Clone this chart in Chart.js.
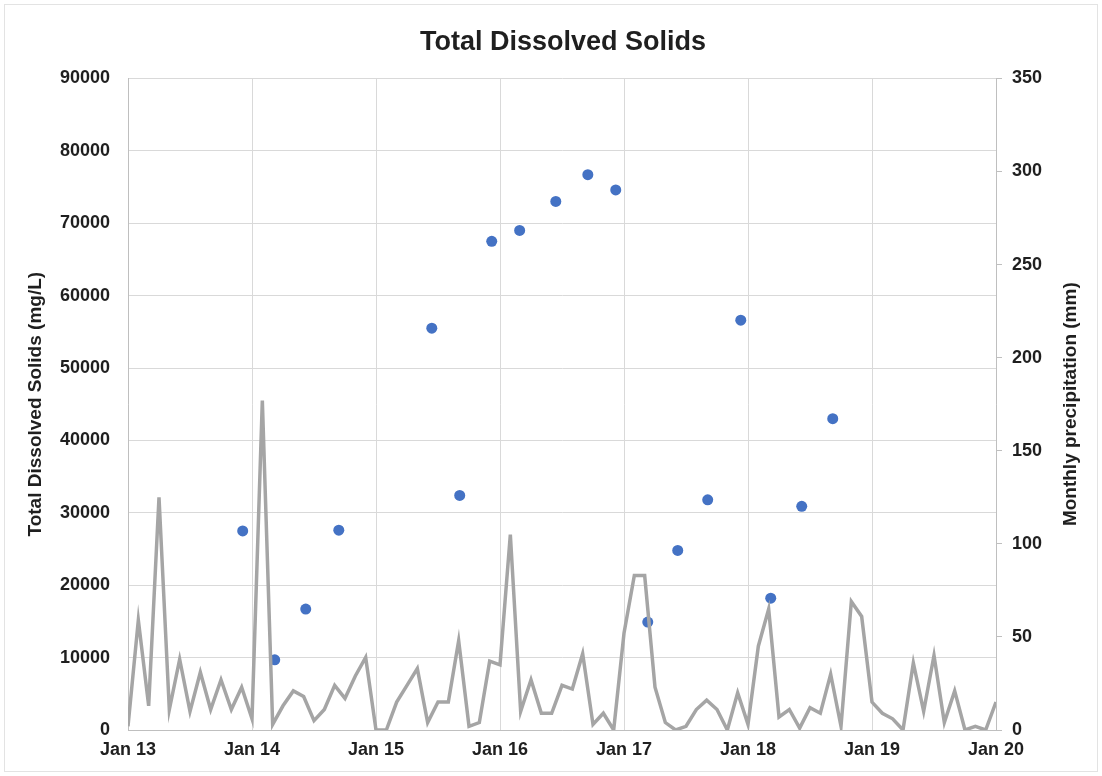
<!DOCTYPE html>
<html>
<head>
<meta charset="utf-8">
<script src="https://cdn.jsdelivr.net/npm/chart.js@4.4.1/dist/chart.umd.min.js"></script>
<style>
  html, body { margin: 0; padding: 0; background: #fff; }
  #wrap { width: 1102px; height: 776px; }
</style>
</head>
<body>
<div id="wrap"><canvas id="c" width="1102" height="776"></canvas></div>
<script>
// x axis: months since Jan 2013, one label per year
const yearLabels = ["Jan 13", "Jan 14", "Jan 15", "Jan 16", "Jan 17", "Jan 18", "Jan 19", "Jan 20"];

// monthly precipitation (mm), Jan 2013 .. Jan 2020
const precip2013 = [2, 59, 13, 125, 11, 38, 10, 31, 11, 27, 11, 23];
const precip2014 = [6, 177, 3, 13, 21, 18, 5, 11, 24, 17, 29, 39];
const precip2015 = [0, 0, 15, 24, 33, 4, 15, 15, 48, 2, 4, 37];
const precip2016 = [35, 105, 10, 27, 9, 9, 24, 22, 41, 3, 9, 0];
const precip2017 = [52, 83, 83, 23, 4, 0, 2, 11, 16, 11, 0, 20];
const precip2018 = [3, 45, 65, 7, 11, 1, 12, 9, 30, 2, 69, 61];
const precip2019 = [15, 9, 6, 0, 36, 10, 40, 4, 21, 0, 2, 0];
const precip2020 = [15];

// TDS samples: position in months since Jan 2013, value mg/L
const tdsMonths = [11.1, 14.2, 17.2, 20.4, 29.4, 32.1, 35.2, 37.9, 41.4, 44.5, 47.2, 50.3, 53.2, 56.1, 59.3, 62.2, 65.2, 68.2];
const tdsValues = [27500, 9700, 16700, 27600, 55500, 32400, 67500, 69000, 73000, 76700, 74600, 14900, 24800, 31800, 56600, 18200, 30900, 43000];

const FONT = "'Liberation Sans', Arial, sans-serif";
const TXT = "#1f1f1f";
const GRID = "#d9d9d9";

const precip = [].concat(precip2013, precip2014, precip2015, precip2016, precip2017, precip2018, precip2019, precip2020);
const precipPts = precip.map((v, i) => ({ x: i, y: v }));
const tdsPts = tdsMonths.map((m, i) => ({ x: m, y: tdsValues[i] }));

// 右軸タイトル（下から上に読む向き）と外枠
const extras = {
  id: "extras",
  beforeDraw(chart) {
    const ctx = chart.ctx;
    ctx.save();
    ctx.fillStyle = "#fff";
    ctx.fillRect(0, 0, chart.width, chart.height);
    ctx.strokeStyle = "#e3e3e3";
    ctx.lineWidth = 1;
    ctx.strokeRect(4.5, 4.5, chart.width - 9, chart.height - 9);
    ctx.restore();
  },
  afterDraw(chart) {
    const ctx = chart.ctx;
    const a = chart.chartArea;
    ctx.save();
    ctx.translate(1071, (a.top + a.bottom) / 2);
    ctx.rotate(-Math.PI / 2);
    ctx.font = "bold 19px " + FONT;
    ctx.fillStyle = TXT;
    ctx.textAlign = "center";
    ctx.textBaseline = "middle";
    ctx.fillText("Monthly precipitation (mm)", 0, 0);
    ctx.restore();
  }
};

new Chart(document.getElementById("c").getContext("2d"), {
  data: {
    datasets: [
      {
        type: "line",
        label: "Monthly precipitation",
        data: precipPts,
        yAxisID: "y1",
        borderColor: "#a5a5a5",
        borderWidth: 3.5,
        pointRadius: 0,
        tension: 0,
        order: 1,
      },
      {
        type: "scatter",
        label: "TDS",
        data: tdsPts,
        yAxisID: "y",
        backgroundColor: "#4472c4",
        borderWidth: 0,
        pointRadius: 5.5,
        order: 2,
      },
    ],
  },
  options: {
    responsive: false,
    animation: false,
    layout: { padding: { left: 24, right: 0, top: 8, bottom: 0 } },
    plugins: {
      legend: { display: false },
      tooltip: { enabled: false },
      title: {
        display: true,
        text: "Total Dissolved Solids",
        color: TXT,
        font: { family: FONT, size: 27, weight: "bold" },
        padding: { top: 18, bottom: 20 },
      },
    },
    scales: {
      x: {
        type: "linear",
        min: 0,
        max: 84,
        afterFit: s => { s.height = 46; },
        ticks: {
          stepSize: 12,
          autoSkip: false,
          maxRotation: 0,
          padding: 9,
          color: TXT,
          font: { family: FONT, size: 18, weight: "bold" },
          callback: v => yearLabels[v / 12] ?? "",
        },
        grid: { color: GRID, drawTicks: false },
        border: { color: "#bfbfbf" },
      },
      y: {
        position: "left",
        min: 0,
        max: 90000,
        afterFit: s => { s.width = 104; },
        ticks: {
          stepSize: 10000,
          padding: 18,
          color: TXT,
          font: { family: FONT, size: 18, weight: "bold" },
          callback: v => String(v),
        },
        grid: { color: GRID, drawTicks: false },
        border: { color: "#bfbfbf" },
        title: {
          display: true,
          text: "Total Dissolved Solids (mg/L)",
          color: TXT,
          font: { family: FONT, size: 19, weight: "bold" },
          padding: { top: 0, bottom: 0 },
        },
      },
      y1: {
        position: "right",
        min: 0,
        max: 350,
        afterFit: s => { s.width = 106; },
        ticks: {
          stepSize: 50,
          padding: 10,
          color: TXT,
          font: { family: FONT, size: 18, weight: "bold" },
          callback: v => String(v),
        },
        grid: { drawOnChartArea: false, drawTicks: true, tickLength: 6, color: "#bfbfbf" },
        border: { color: "#bfbfbf" },
      },
    },
  },
  plugins: [extras],
});
</script>
</body>
</html>
